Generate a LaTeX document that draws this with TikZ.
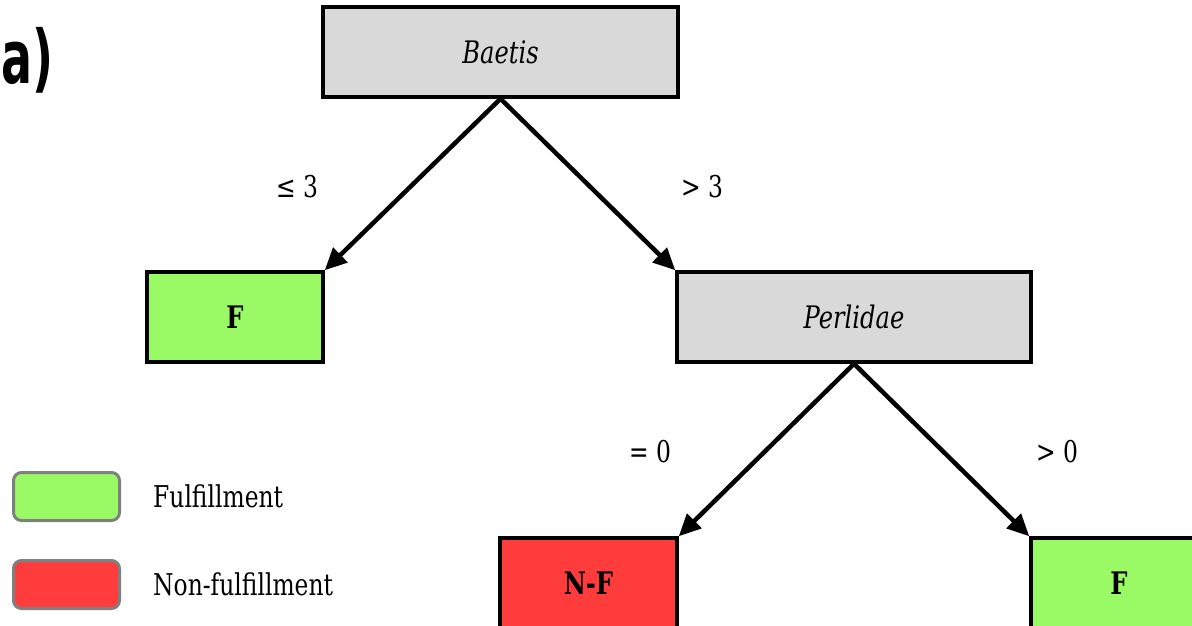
\documentclass[tikz,border=0pt]{standalone}
\usepackage{fontspec}
\setmainfont{DejaVu Serif}[FakeStretch=0.78]
\newfontfamily\panelfont{DejaVu Sans}[FakeStretch=0.62]
\usetikzlibrary{arrows.meta}
\definecolor{splitgray}{HTML}{D9D9D9}
\definecolor{okgreen}{HTML}{99FA66}
\definecolor{nogreen}{HTML}{FF3C3C}
\definecolor{legendedge}{HTML}{7F7F7F}
\tikzset{
  treebox/.style={draw=black, line width=3.5pt, inner sep=0pt, minimum height=90pt},
  splitbox/.style={treebox, fill=splitgray, minimum width=355pt, font=\fontsize{31}{34}\selectfont\itshape},
  leafbox/.style={treebox, minimum width=176pt, font=\fontsize{31}{34}\selectfont\bfseries},
  branch/.style={line width=4.5pt, -{Triangle[length=22pt,width=20pt]}},
  cond/.style={font=\fontsize{30}{34}\selectfont, inner sep=0pt},
  legendkey/.style={draw=legendedge, line width=3pt, rounded corners=8pt, minimum width=106pt, minimum height=48pt, inner sep=0pt},
  legendtext/.style={font=\fontsize{30}{34}\selectfont, anchor=west, inner sep=0pt}
}
\begin{document}
\begin{tikzpicture}[x=1pt, y=-1pt]
  \useasboundingbox (0,0) rectangle (1192,625);
  \clip (0,0) rectangle (1192,625);

  % panel label
  \node[font=\panelfont\bfseries\fontsize{74}{80}\selectfont, anchor=west, inner sep=0pt] (panel) at (1,60) {a)};

  % decision tree
  \node[splitbox] (baetis) at (500.5,52) {Baetis};
  \node[leafbox, fill=okgreen] (leafA) at (235,317) {F};
  \node[splitbox, minimum width=354pt] (perlidae) at (854,317) {Perlidae};
  \node[leafbox, fill=nogreen, minimum width=177pt] (leafB) at (588.5,583) {N-F};
  \node[leafbox, fill=okgreen] (leafC) at (1119,583) {F};

  \draw[branch] (baetis.south) -- (leafA.north east);
  \draw[branch] (baetis.south) -- (perlidae.north west);
  \draw[branch] (perlidae.south) -- (leafB.north east);
  \draw[branch] (perlidae.south) -- (leafC.north west);

  % split conditions
  \node[cond] (c1) at (297,187) {≤ 3};
  \node[cond] (c2) at (702,187) {> 3};
  \node[cond] (c3) at (650,452) {= 0};
  \node[cond] (c4) at (1057,452) {> 0};

  % legend
  \node[legendkey, fill=okgreen] (keyA) at (66.5,496.5) {};
  \node[legendkey, fill=nogreen] (keyB) at (66.5,584.5) {};
  \node[legendtext] (txtA) at (153,496) {Fulfillment};
  \node[legendtext] (txtB) at (153,584) {Non-fulfillment};
\end{tikzpicture}
\end{document}
